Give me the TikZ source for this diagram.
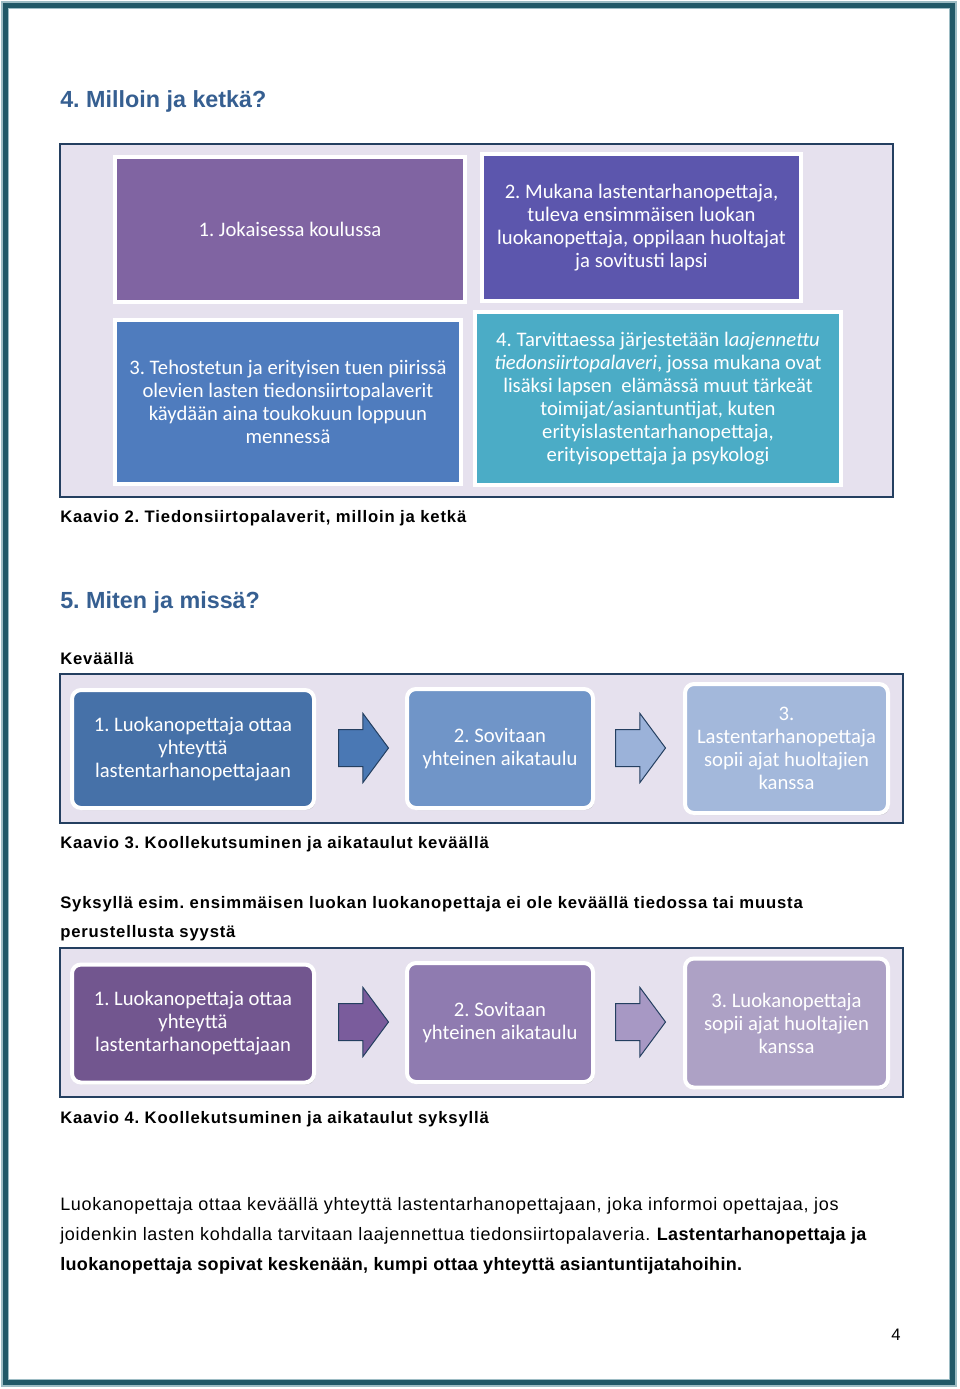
\documentclass[tikz,border=0pt]{standalone}
\usepackage{fontspec}
\setmainfont{Liberation Sans}
\newfontfamily\boxfont{Carlito}
\newfontfamily\capfont{Liberation Sans}[LetterSpace=5]
\newfontfamily\parafont{Liberation Sans}[LetterSpace=4, BoldFeatures={LetterSpace=2}]
\usetikzlibrary{shapes.arrows, shadows}
\frenchspacing

\definecolor{pageteal}{HTML}{215867}
\definecolor{pagelight}{HTML}{9DBCC4}
\definecolor{headblue}{HTML}{365F91}
\definecolor{framedark}{HTML}{243F60}
\definecolor{lavender}{HTML}{E6E1EE}
\definecolor{boxpurple}{HTML}{8064A2}
\definecolor{boxviolet}{HTML}{5C56AD}
\definecolor{boxblue}{HTML}{4F7CBE}
\definecolor{boxteal}{HTML}{4BACC6}
\definecolor{springA}{HTML}{4671A8}
\definecolor{springArrowA}{HTML}{4A78B4}
\definecolor{springB}{HTML}{7095C8}
\definecolor{springArrowB}{HTML}{9BB2D9}
\definecolor{springC}{HTML}{A3B8DB}
\definecolor{autumnA}{HTML}{72568F}
\definecolor{autumnArrowA}{HTML}{7A5C9C}
\definecolor{autumnB}{HTML}{8F7BB0}
\definecolor{autumnArrowB}{HTML}{A798C4}
\definecolor{autumnC}{HTML}{ADA1C5}

\newcommand{\px}{0.75pt}

\tikzset{
  frame/.style={draw=framedark, line width=1.5*\px, fill=lavender},
  sqbox/.style={draw=white, line width=4*\px, text=white, align=center,
    font=\boxfont\fontsize{15.5}{17.2}\selectfont,
    drop shadow={shadow xshift=1pt, shadow yshift=-1.5pt, opacity=0.35}},
  rndbox/.style={sqbox, rounded corners=9*\px},
  stepArrow/.style={single arrow, draw=framedark, line width=1*\px, anchor=tail,
    inner xsep=0pt, inner ysep=18*\px, minimum height=50*\px,
    single arrow head extend=16*\px, single arrow tip angle=107},
  caption/.style={anchor=base west, inner sep=0pt, font=\capfont\bfseries\fontsize{12.5}{15}\selectfont},
  heading/.style={anchor=base west, inner sep=0pt, text=headblue, font=\bfseries\fontsize{17.5}{21}\selectfont},
}

\begin{document}
\begin{tikzpicture}[x=0.75pt, y=-0.75pt]
  \useasboundingbox (0,0) rectangle (960,1389);

  % Page border
  \draw[pagelight, line width=2*\px] (2,2) rectangle (956,1386);
  \draw[pageteal, line width=5*\px] (5.5,5.5) rectangle (952,1382);
  \draw[pagelight, line width=1*\px] (8.5,8.5) rectangle (949,1379);

  % Headings and captions
  \node[heading] (milloin) at (60,107) {4. Milloin ja ketkä?};
  \node[caption] (kaavio2) at (60,522) {Kaavio 2. Tiedonsiirtopalaverit, milloin ja ketkä};
  \node[heading] (miten) at (60,608) {5. Miten ja missä?};
  \node[caption] (kevaalla) at (60,664) {Keväällä};
  \node[caption] (kaavio3) at (60,848) {Kaavio 3. Koollekutsuminen ja aikataulut keväällä};
  \node[caption] (syksylla) at (60,908) {Syksyllä esim. ensimmäisen luokan luokanopettaja ei ole keväällä tiedossa tai muusta};
  \node[caption] (syy) at (60,937) {perustellusta syystä};
  \node[caption] (kaavio4) at (60,1123) {Kaavio 4. Koollekutsuminen ja aikataulut syksyllä};

  % Diagram: milloin ja ketka
  \draw[frame] (60,144) rectangle (893,497);
  \node[sqbox, fill=boxpurple, minimum width=350*\px, minimum height=145*\px] (koulu) at (290,229.5)
    {1. Jokaisessa koulussa};
  \node[sqbox, fill=boxviolet, minimum width=319*\px, minimum height=147*\px] (mukana) at (641.5,227.5)
    {2. Mukana lastentarhanopettaja,\\ tuleva ensimmäisen luokan\\ luokanopettaja, oppilaan huoltajat\\ ja sovitusti lapsi};
  \node[sqbox, fill=boxblue, minimum width=346*\px, minimum height=164*\px] (tuki) at (288,402)
    {3. Tehostetun ja erityisen tuen piirissä\\ olevien lasten tiedonsiirtopalaverit\\ käydään aina toukokuun loppuun\\ mennessä};
  \node[sqbox, fill=boxteal, minimum width=366*\px, minimum height=173*\px] (laaja) at (658,398.5)
    {4. Tarvittaessa järjestetään l\textit{aajennettu}\\ \textit{tiedonsiirtopalaveri}, jossa mukana ovat\\ lisäksi lapsen\ \ elämässä muut tärkeät\\ toimijat/asiantuntijat, kuten\\ erityislastentarhanopettaja,\\ erityisopettaja ja psykologi};

  % Diagram: kevaalla
  \draw[frame] (60,674) rectangle (903,823);
  \node[rndbox, fill=springA, minimum width=242*\px, minimum height=118*\px] (kYhteys) at (193,749)
    {1. Luokanopettaja ottaa\\ yhteyttä\\ lastentarhanopettajaan};
  \node[stepArrow, fill=springArrowA] (kNuoli1) at (338,748) {};
  \node[rndbox, fill=springB, minimum width=186*\px, minimum height=119*\px] (kAikataulu) at (500,748.5)
    {2. Sovitaan\\ yhteinen aikataulu};
  \node[stepArrow, fill=springArrowB] (kNuoli2) at (615,748) {};
  \node[rndbox, fill=springC, minimum width=203*\px, minimum height=129*\px] (kAjat) at (786.5,748.5)
    {3.\\ Lastentarhanopettaja\\ sopii ajat huoltajien\\ kanssa};

  % Diagram: syksylla
  \draw[frame] (60,948) rectangle (903,1097);
  \node[rndbox, fill=autumnA, minimum width=242*\px, minimum height=118*\px] (sYhteys) at (193,1023.5)
    {1. Luokanopettaja ottaa\\ yhteyttä\\ lastentarhanopettajaan};
  \node[stepArrow, fill=autumnArrowA] (sNuoli1) at (338,1022) {};
  \node[rndbox, fill=autumnB, minimum width=186*\px, minimum height=119*\px] (sAikataulu) at (500,1022.5)
    {2. Sovitaan\\ yhteinen aikataulu};
  \node[stepArrow, fill=autumnArrowB] (sNuoli2) at (615,1022) {};
  \node[rndbox, fill=autumnC, minimum width=203*\px, minimum height=129*\px] (sAjat) at (786.5,1023)
    {3. Luokanopettaja\\ sopii ajat huoltajien\\ kanssa};

  % Paragraph (anchored on its last line)
  \node[anchor=base west, inner sep=0pt, align=left, font=\parafont\fontsize{13.5}{22.2}\selectfont] (kappale) at (60,1270)
    {Luokanopettaja ottaa keväällä yhteyttä lastentarhanopettajaan, joka informoi opettajaa, jos\\
     joidenkin lasten kohdalla tarvitaan laajennettua tiedonsiirtopalaveria. \textbf{Lastentarhanopettaja ja}\\
     \textbf{luokanopettaja sopivat keskenään, kumpi ottaa yhteyttä asiantuntijatahoihin.}};

  % Page number
  \node[anchor=base west, inner sep=0pt, font=\fontsize{12.5}{15}\selectfont] (sivu) at (891,1340) {4};
\end{tikzpicture}
\end{document}
